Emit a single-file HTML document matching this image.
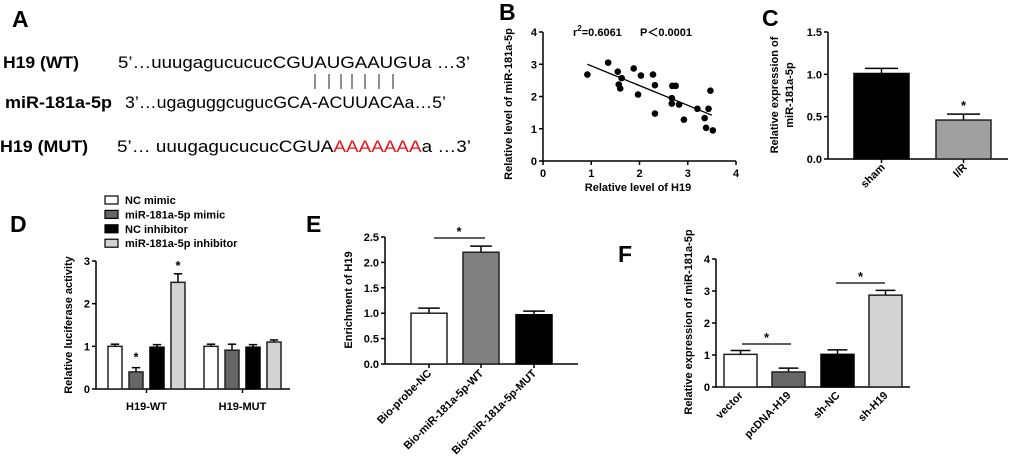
<!DOCTYPE html>
<html><head><meta charset="utf-8">
<style>
html,body{margin:0;padding:0;background:#fff;}
svg{display:block;font-family:"Liberation Sans",Arial,sans-serif;font-weight:bold;}
</style></head>
<body>
<svg id="fig" width="1020" height="456" viewBox="0 0 1020 456" xmlns="http://www.w3.org/2000/svg">
  <!-- Panel A -->
  <g font-size="17">
    <text x="12" y="27" font-size="23">A</text>
    <text x="3" y="68" textLength="76" lengthAdjust="spacingAndGlyphs">H19 (WT)</text>
    <text x="118" y="68" font-weight="normal" textLength="352" lengthAdjust="spacingAndGlyphs">5’…uuugagucucucCGUAUGAAUGUa …3’</text>
    <g stroke="#444" stroke-width="1.2">
      <line x1="315" y1="74" x2="315" y2="89"/><line x1="329" y1="74" x2="329" y2="89"/>
      <line x1="341" y1="74" x2="341" y2="89"/><line x1="352" y1="74" x2="352" y2="89"/>
      <line x1="365" y1="74" x2="365" y2="89"/><line x1="379" y1="74" x2="379" y2="89"/>
      <line x1="393" y1="74" x2="393" y2="89"/>
    </g>
    <text x="5" y="108" textLength="107" lengthAdjust="spacingAndGlyphs">miR-181a-5p</text>
    <text x="125" y="108" font-weight="normal" textLength="321" lengthAdjust="spacingAndGlyphs">3’…ugaguggcugucGCA-ACUUACAa…5’</text>
    <text x="0" y="152" textLength="88" lengthAdjust="spacingAndGlyphs">H19 (MUT)</text>
    <text x="117" y="152" font-weight="normal" textLength="354" lengthAdjust="spacingAndGlyphs">5’… uuugagucucucCGUA<tspan fill="#e8141b">AAAAAAA</tspan>a …3’</text>
  </g>
  <text x="499" y="20" font-size="23">B</text>
  <text x="762" y="26" font-size="23">C</text>
  <text x="10" y="232" font-size="23">D</text>
  <text x="306" y="232" font-size="23">E</text>
  <text x="618" y="262" font-size="23">F</text>
  <g id="charts"></g>
</svg>
<script>
// Panel B data
const bX = [0.92,1.35,1.55,1.57,1.6,1.63,1.88,1.97,2.03,2.28,2.32,2.32,2.67,2.67,2.68,2.75,2.82,2.92,3.2,3.35,3.38,3.43,3.47,3.52];
const bY = [2.68,3.05,2.77,2.37,2.25,2.57,2.87,2.06,2.65,2.68,2.35,1.47,1.95,1.78,2.33,2.33,1.75,1.28,1.62,1.33,1.03,1.62,2.18,0.95];
const bFitX = [0.92,3.5];
const bFitY = [3.0,1.42];
const bTicks = [0,1,2,3,4];
// Panel C data
const cCats = ["sham","I/R"];
const cVals = [1.01,0.46];
const cErr = [0.06,0.07];
const cTicks = ["0.0","0.5","1.0","1.5"];
// Panel D data
const dGroups = ["H19-WT","H19-MUT"];
const dSeries = ["NC mimic","miR-181a-5p mimic","NC inhibitor","miR-181a-5p inhibitor"];
const dWT = [1.0,0.4,0.98,2.5];
const dMUT = [1.0,0.91,0.98,1.1];
const dErrWT = [0.05,0.1,0.06,0.2];
const dErrMUT = [0.05,0.14,0.06,0.05];
const dTicks = [0,1,2,3];
// Panel E data
const eCats = ["Bio-probe-NC","Bio-miR-181a-5p-WT","Bio-miR-181a-5p-MUT"];
const eVals = [1.0,2.2,0.97];
const eErr = [0.1,0.12,0.07];
const eTicks = ["0.0","0.5","1.0","1.5","2.0","2.5"];
// Panel F data
const fCats = ["vector","pcDNA-H19","sh-NC","sh-H19"];
const fVals = [1.02,0.47,1.02,2.87];
const fErr = [0.12,0.12,0.14,0.15];
const fTicks = [0,1,2,3,4];

const NS="http://www.w3.org/2000/svg";
const root=document.getElementById('charts');
function mk(tag,attrs,parent,text){const e=document.createElementNS(NS,tag);for(const k in attrs)e.setAttribute(k,attrs[k]);if(text!==undefined)e.textContent=text;(parent||root).appendChild(e);return e;}
function lin(d0,d1,r0,r1){return v=>r0+(v-d0)/(d1-d0)*(r1-r0);}
function yAxis(g,x,y0,y1,ys,ticks,name){
  const a=mk('line',{x1:x,y1:y0,x2:x,y2:y1,stroke:'#000','stroke-width':1.5},g);
  
  
  ticks.forEach(t=>{const v=parseFloat(t);const y=ys(v);
    mk('line',{x1:x-4,y1:y,x2:x,y2:y,stroke:'#000','stroke-width':1.5},g);
    const tx=mk('text',{x:x-6,y:y+4,'text-anchor':'end','font-size':11},g,String(t));
    
    
  });
}
function bar(g,x,w,ys,v,e,fill,name){
  const y=ys(v),y0=ys(0);
  const ey=ys(v+e);
  mk('line',{x1:x+w/2,y1:y,x2:x+w/2,y2:ey,stroke:'#000','stroke-width':1.5},g);
  mk('line',{x1:x+w/2-w*0.3,y1:ey,x2:x+w/2+w*0.3,y2:ey,stroke:'#000','stroke-width':1.5},g);
  const r=mk('rect',{x:x,y:y,width:w,height:y0-y,fill:fill,stroke:fill==='#000'?'#000':'#222','stroke-width':1.5},g);
  
  
}
function rotLabel(g,x,y,t,name){
  const tx=mk('text',{x:x,y:y,'text-anchor':'end','font-size':11,transform:`rotate(-45 ${x} ${y})`},g,t);
  
  
}
function star(g,x,y){const s=mk('text',{x:x,y:y,'text-anchor':'middle','font-size':13},g,'*');
  
  }
function yTitle(g,x,cy,t,name,fs){const tx=mk('text',{x:x,y:cy,'text-anchor':'middle','font-size':fs||11,transform:`rotate(-90 ${x} ${cy})`},g,t);
  
  }

// ---- Panel B ----
(function(){
  const g=mk('g',{});
  
  
  const xs=lin(0,4,543,736), ys=lin(0,4,161,32);
  yAxis(g,543,161,32,ys,bTicks,'b');
  const ax=mk('line',{x1:543,y1:161,x2:736,y2:161,stroke:'#000','stroke-width':1.5},g);
  
  
  bTicks.forEach(t=>{const x=xs(t);mk('line',{x1:x,y1:161,x2:x,y2:165,stroke:'#000','stroke-width':1.5},g);
    const tx=mk('text',{x:x,y:177,'text-anchor':'middle','font-size':11},g,String(t));
    
    });
  const fl=mk('line',{x1:xs(bFitX[0]),y1:ys(bFitY[0]),x2:xs(bFitX[1]),y2:ys(bFitY[1]),stroke:'#000','stroke-width':1.3},g);
  
  
  bX.forEach((v,i)=>{const c=mk('circle',{cx:xs(v),cy:ys(bY[i]),r:3.3,fill:'#000'},g);
    
    });
  const st=mk('text',{x:573,y:36,'font-size':11},g);
  
  
  mk('tspan',{},st,'r');mk('tspan',{dy:-5,'font-size':8},st,'2');mk('tspan',{dy:5},st,'=0.6061');
  mk('tspan',{x:640},st,'P＜0.0001');
  const xt=mk('text',{x:638,y:191,'text-anchor':'middle','font-size':11},g,'Relative level of H19');
  
  
  yTitle(g,512,104,'Relative level of miR-181a-5p','b-y-axis-title');
})();

// ---- Panel C ----
(function(){
  const g=mk('g',{});
  
  
  const ys=lin(0,1.5,159,32);
  yAxis(g,828,159,32,ys,cTicks,'c');
  mk('line',{x1:828,y1:159,x2:1008,y2:159,stroke:'#000','stroke-width':1.5},g);
  const cx=[854,936], w=55, fills=['#000','#a0a0a0'];
  cCats.forEach((c,i)=>{bar(g,cx[i],w,ys,cVals[i],cErr[i],fills[i],'c-bar-'+c);
    mk('line',{x1:cx[i]+w/2,y1:159,x2:cx[i]+w/2,y2:163,stroke:'#000','stroke-width':1.5},g);
    rotLabel(g,cx[i]+w/2+4,168,c,'c-x-label');});
  star(g,cx[1]+w/2,ys(cVals[1]+cErr[1])-4);
  yTitle(g,778,95,'Relative expression of','c-y-axis-title');
  yTitle(g,793,95,'miR-181a-5p','c-y-axis-title-2');
})();

// ---- Panel D ----
(function(){
  const g=mk('g',{});
  
  
  const ys=lin(0,3,389,261);
  const fills=['#fff','#666','#000','#d3d3d3'];
  dSeries.forEach((s,i)=>{const y=200+i*14.4;
    const r=mk('rect',{x:105,y:y-4,width:13,height:8,fill:fills[i],stroke:'#000','stroke-width':1.2},g);
    
    
    const t=mk('text',{x:125,y:y+4,'font-size':11},g,s);
    
    });
  yAxis(g,96,389,261,ys,dTicks,'d');
  mk('line',{x1:96,y1:389,x2:290,y2:389,stroke:'#000','stroke-width':1.5},g);
  const gx=[108,204], step=21, w=14;
  [dWT,dMUT].forEach((vals,gi)=>{const errs=gi?dErrMUT:dErrWT;
    vals.forEach((v,i)=>bar(g,gx[gi]+i*step,w,ys,v,errs[i],fills[i],'d-bar-'+dGroups[gi]+'-'+i));
    const cxm=gx[gi]+1.5*step+w/2;
    mk('line',{x1:cxm,y1:389,x2:cxm,y2:393,stroke:'#000','stroke-width':1.5},g);
    const t=mk('text',{x:cxm,y:410,'text-anchor':'middle','font-size':11},g,dGroups[gi]);
    
    });
  star(g,gx[0]+step+w/2,ys(dWT[1]+dErrWT[1])-6);
  star(g,gx[0]+3*step+w/2,ys(dWT[3]+dErrWT[3])-4);
  yTitle(g,72,325,'Relative luciferase activity','d-y-axis-title');
})();

// ---- Panel E ----
(function(){
  const g=mk('g',{});
  
  
  const ys=lin(0,2.5,364,237);
  yAxis(g,385,364,237,ys,eTicks,'e');
  mk('line',{x1:385,y1:364,x2:578,y2:364,stroke:'#000','stroke-width':1.5},g);
  const bx=[411,463,516], w=36, fills=['#fff','#808080','#000'];
  eCats.forEach((c,i)=>{bar(g,bx[i],w,ys,eVals[i],eErr[i],fills[i],'e-bar-'+i);
    mk('line',{x1:bx[i]+w/2,y1:364,x2:bx[i]+w/2,y2:368,stroke:'#000','stroke-width':1.5},g);
    rotLabel(g,bx[i]+w/2+3,374,c,'e-x-label');});
  const sl=mk('line',{x1:434,y1:238,x2:485,y2:238,stroke:'#000','stroke-width':1.3},g);
  
  
  star(g,459,236);
  yTitle(g,352,300,'Enrichment of H19','e-y-axis-title');
})();

// ---- Panel F ----
(function(){
  const g=mk('g',{});
  
  
  const ys=lin(0,4,387,259);
  yAxis(g,716,387,259,ys,fTicks,'f');
  mk('line',{x1:716,y1:387,x2:910,y2:387,stroke:'#000','stroke-width':1.5},g);
  const bx=[724,772,821,869], w=33, fills=['#fff','#666','#000','#d3d3d3'];
  fCats.forEach((c,i)=>{bar(g,bx[i],w,ys,fVals[i],fErr[i],fills[i],'f-bar-'+c);
    rotLabel(g,bx[i]+w/2+3,396,c,'f-x-label');});
  [[742,791,344],[836,885,283]].forEach(s=>{const l=mk('line',{x1:s[0],y1:s[2],x2:s[1],y2:s[2],stroke:'#000','stroke-width':1.3},g);
    
    
    star(g,(s[0]+s[1])/2,s[2]-2);});
  yTitle(g,692,322,'Relative  expression of miR-181a-5p','f-y-axis-title');
})();
</script>
</body></html>
